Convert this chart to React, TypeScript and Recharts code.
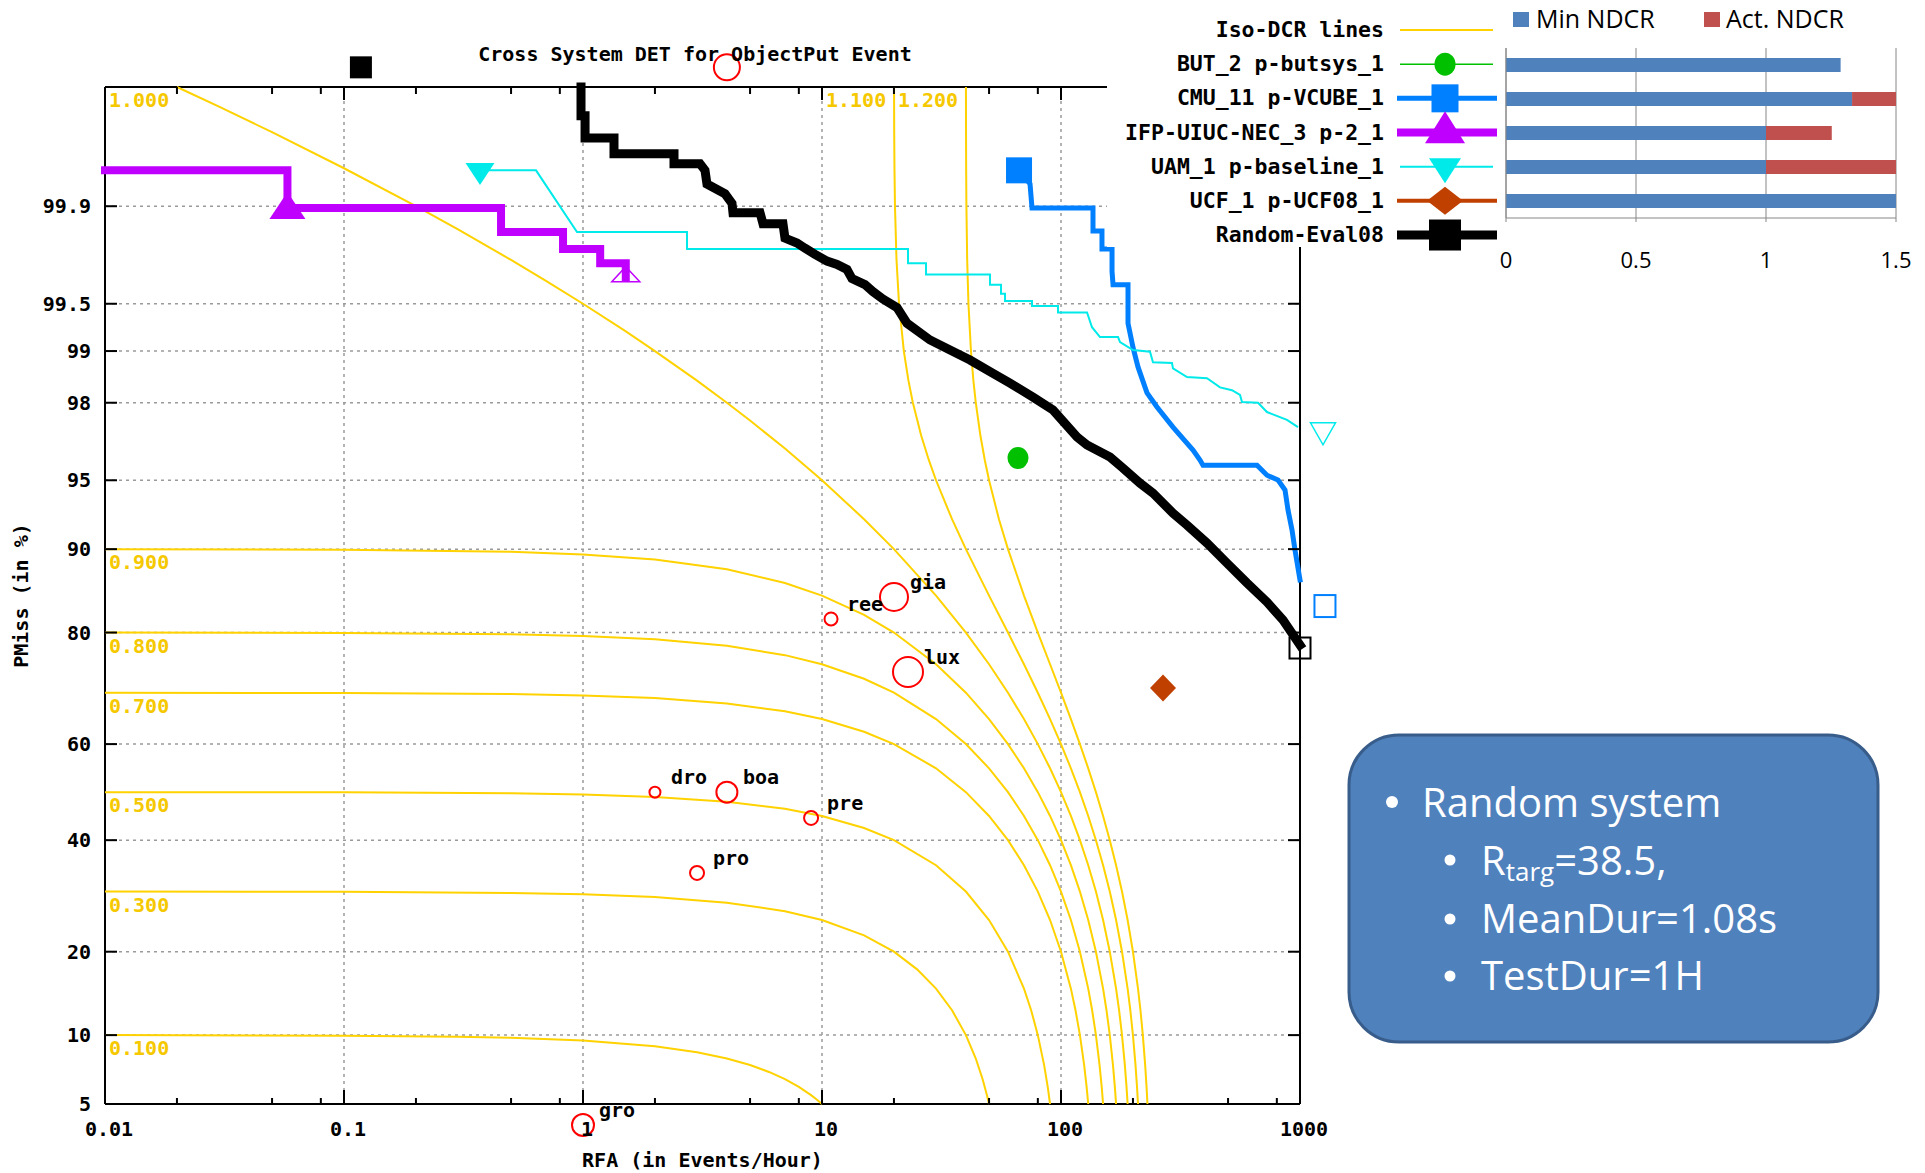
import React from 'react';
import { ScatterChart, Scatter, XAxis, YAxis, CartesianGrid, BarChart, Bar } from 'recharts';

type Pt = [number, number];

// ---------------- texts ----------------
const TITLE = 'Cross System DET for ObjectPut Event';
const X_TITLE = 'RFA (in Events/Hour)';
const Y_TITLE = 'PMiss (in %)';

// ---------------- axes ----------------
const RFA_RANGE: Pt = [0.01, 1000];
const PMISS_RANGE: Pt = [5, 99.99];
const RFA_MAJOR = [0.01, 0.1, 1, 10, 100, 1000];
const RFA_MAJOR_LABELS = ['0.01', '0.1', '1', '10', '100', '1000'];
const RFA_MINOR = [0.02, 0.05, 0.08, 0.2, 0.5, 0.8, 2, 5, 8, 20, 50, 80, 200, 500, 800];
const PMISS_TICKS = [5, 10, 20, 40, 60, 80, 90, 95, 98, 99, 99.5, 99.9];
const PMISS_LABELS = ['5', '10', '20', '40', '60', '80', '90', '95', '98', '99', '99.5', '99.9'];

// ---------------- iso-DCR lines (RFA, Pmiss %) ----------------
const ISO_010: Pt[] = [[0.01, 10], [0.1, 9.95], [0.3, 9.85], [0.5, 9.75], [1, 9.5], [2, 9], [3, 8.5], [4, 8], [5, 7.5], [6, 7], [7, 6.5], [8, 6], [9, 5.5], [9.5, 5.25], [10, 5]];
const ISO_030: Pt[] = [[0.01, 30], [0.1, 29.95], [0.5, 29.75], [1, 29.5], [2, 29], [4, 28], [7, 26.5], [10, 25], [15, 22.5], [20, 20], [25, 17.5], [30, 15], [35, 12.5], [40, 10], [44, 8], [47, 6.5], [49, 5.5], [50, 5]];
const ISO_050: Pt[] = [[0.01, 50], [0.1, 49.95], [0.5, 49.75], [1, 49.5], [2, 49], [4, 48], [7, 46.5], [10, 45], [15, 42.5], [20, 40], [30, 35], [40, 30], [50, 25], [60, 20], [70, 15], [75, 12.5], [80, 10], [85, 7.5], [88, 6], [90, 5]];
const ISO_070: Pt[] = [[0.01, 70], [0.1, 69.95], [0.5, 69.75], [1, 69.5], [2, 69], [4, 68], [7, 66.5], [10, 65], [15, 62.5], [20, 60], [30, 55], [40, 50], [50, 45], [60, 40], [70, 35], [80, 30], [90, 25], [100, 20], [110, 15], [115, 12.5], [120, 10], [125, 7.5], [128, 6], [130, 5]];
const ISO_080: Pt[] = [[0.01, 80], [0.1, 79.95], [0.5, 79.75], [1, 79.5], [2, 79], [4, 78], [7, 76.5], [10, 75], [15, 72.5], [20, 70], [30, 65], [40, 60], [50, 55], [60, 50], [70, 45], [80, 40], [90, 35], [100, 30], [110, 25], [120, 20], [130, 15], [135, 12.5], [140, 10], [145, 7.5], [148, 6], [150, 5]];
const ISO_090: Pt[] = [[0.01, 90], [0.1, 89.95], [0.5, 89.75], [1, 89.5], [2, 89], [4, 88], [7, 86.5], [10, 85], [15, 82.5], [20, 80], [30, 75], [40, 70], [50, 65], [60, 60], [70, 55], [80, 50], [90, 45], [100, 40], [110, 35], [120, 30], [130, 25], [140, 20], [150, 15], [155, 12.5], [160, 10], [165, 7.5], [168, 6], [170, 5]];
const ISO_100: Pt[] = [[0.02, 99.99], [0.03, 99.985], [0.05, 99.975], [0.1, 99.95], [0.2, 99.9], [0.3, 99.85], [0.5, 99.75], [0.7, 99.65], [1, 99.5], [1.5, 99.25], [2, 99], [3, 98.5], [4, 98], [5, 97.5], [7, 96.5], [10, 95], [15, 92.5], [20, 90], [30, 85], [40, 80], [50, 75], [60, 70], [70, 65], [80, 60], [90, 55], [100, 50], [110, 45], [120, 40], [130, 35], [140, 30], [150, 25], [160, 20], [170, 15], [175, 12.5], [180, 10], [185, 7.5], [188, 6], [190, 5]];
const ISO_110: Pt[] = [[20.02, 99.99], [20.05, 99.975], [20.1, 99.95], [20.2, 99.9], [20.5, 99.75], [21, 99.5], [22, 99], [23, 98.5], [24, 98], [26, 97], [28, 96], [30, 95], [35, 92.5], [40, 90], [50, 85], [60, 80], [70, 75], [80, 70], [90, 65], [100, 60], [110, 55], [120, 50], [130, 45], [140, 40], [150, 35], [160, 30], [170, 25], [180, 20], [190, 15], [195, 12.5], [200, 10], [205, 7.5], [208, 6], [210, 5]];
const ISO_120: Pt[] = [[40.02, 99.99], [40.05, 99.975], [40.1, 99.95], [40.2, 99.9], [40.5, 99.75], [41, 99.5], [42, 99], [43, 98.5], [44, 98], [46, 97], [48, 96], [50, 95], [55, 92.5], [60, 90], [70, 85], [80, 80], [90, 75], [100, 70], [110, 65], [120, 60], [130, 55], [140, 50], [150, 45], [160, 40], [170, 35], [180, 30], [190, 25], [200, 20], [210, 15], [215, 12.5], [220, 10], [225, 7.5], [228, 6], [230, 5]];
const ISO_CURVES = [ISO_010, ISO_030, ISO_050, ISO_070, ISO_080, ISO_090, ISO_100, ISO_110, ISO_120];
const ISO_LABELS = ['1.000', '1.100', '1.200', '0.900', '0.800', '0.700', '0.500', '0.300', '0.100'];
const ISO_LABEL_AT: Pt[] = [[0.01, 99.99], [10, 99.99], [20, 99.99], [0.01, 90], [0.01, 80], [0.01, 70], [0.01, 50], [0.01, 30], [0.01, 10]];

// ---------------- reference points ----------------
const REF_NAMES = ['gia', 'ree', 'lux', 'dro', 'boa', 'pre', 'pro', 'gro', ''];
const REF_POINTS: Pt[] = [[20.01, 84.83], [10.91, 81.95], [22.9, 73.68], [2.0, 50.0], [4.0, 50.0], [9.0, 44.59], [3.0, 33.5], [1.0, 3.96], [4.0, 99.9934]];

// ---------------- system DET curves ----------------
const BUT_ACT: Pt = [66.07, 96.1];

const CMU_CURVE: Pt[] = [[66.74, 99.948], [74.2, 99.933], [75.62, 99.897], [136.1, 99.897], [136.1, 99.846], [148.4, 99.846], [148.4, 99.791], [163.5, 99.791], [163.5, 99.699], [165.1, 99.628], [190.7, 99.628], [190.7, 99.33], [200.1, 99.05], [210.1, 98.75], [229, 98.24], [252.1, 97.89], [294.1, 97.29], [356.7, 96.44], [381.6, 96.01], [392.8, 95.77], [660.9, 95.77], [727.7, 95.27], [809, 95.01], [865.5, 94.45], [891, 93.16], [925.9, 91.66], [953.1, 89.92], [1000, 86.84]];
const CMU_ACT: Pt = [66.74, 99.948];
const CMU_MIN: Pt = [1272, 83.68];

const IFP_CURVE: Pt[] = [[0.01, 99.948], [0.058, 99.948], [0.058, 99.897], [0.454, 99.897], [0.454, 99.843], [0.825, 99.843], [0.825, 99.791], [1.18, 99.791], [1.18, 99.736], [1.51, 99.736], [1.51, 99.667]];
const IFP_ACT: Pt = [0.058, 99.893];
const IFP_MIN: Pt = [1.51, 99.672];

const UAM_CURVE: Pt[] = [[0.3707, 99.948], [0.636, 99.948], [0.9438, 99.843], [2.724, 99.843], [2.724, 99.791], [22.9, 99.791], [22.9, 99.736], [27.24, 99.736], [27.24, 99.683], [50.45, 99.683], [50.45, 99.628], [56.1, 99.628], [56.1, 99.571], [58.31, 99.571], [58.31, 99.521], [75.62, 99.521], [75.62, 99.482], [97.14, 99.482], [97.14, 99.43], [128.5, 99.43], [134.8, 99.29], [145.6, 99.18], [173.2, 99.18], [176.6, 99.12], [200.1, 99.014], [235.7, 98.99], [242.6, 98.83], [291.3, 98.82], [294.1, 98.73], [336.7, 98.57], [408.2, 98.55], [462.8, 98.36], [519.4, 98.3], [561, 98.19], [571.9, 98.02], [667.4, 98.0], [727.7, 97.75], [882.1, 97.52], [980.8, 97.29]];
const UAM_ACT: Pt = [0.3707, 99.948];
const UAM_MIN: Pt = [1248, 97.19];

const UCF_ACT: Pt = [267.2, 70.87];

const RANDOM_CURVE: Pt[] = [[0.981, 99.99], [0.981, 99.982], [1.02, 99.982], [1.02, 99.972], [1.348, 99.972], [1.348, 99.962], [2.403, 99.962], [2.403, 99.954], [3.087, 99.954], [3.239, 99.948], [3.302, 99.933], [3.928, 99.92], [4.202, 99.905], [4.242, 99.888], [5.503, 99.888], [5.664, 99.864], [6.866, 99.864], [7.0, 99.826], [7.861, 99.811], [8.489, 99.794], [9.348, 99.772], [10.49, 99.745], [11.56, 99.731], [12.72, 99.708], [13.35, 99.662], [15.13, 99.628], [16.35, 99.585], [17.99, 99.535], [20.6, 99.47], [22.68, 99.33], [28.31, 99.145], [34.33, 99.014], [41.62, 98.867], [51.94, 98.64], [61.17, 98.45], [76.34, 98.14], [92.58, 97.81], [116.7, 96.95], [128.5, 96.64], [160.3, 96.14], [181.7, 95.63], [214.1, 94.84], [242.6, 94.26], [294.1, 92.94], [336.7, 92.05], [408.2, 90.55], [494.9, 88.65], [600.2, 86.5], [727.7, 84.2], [848.9, 81.81], [1000, 78.11]];
const RANDOM_ACT: Pt = [0.1177, 99.9934];
const RANDOM_MIN: Pt = [1000, 77.64];

// ---------------- NDCR bar chart ----------------
const NDCR_SYSTEMS = ['BUT_2', 'CMU_11', 'IFP-UIUC-NEC_3', 'UAM_1', 'UCF_1'];
const MIN_NDCR = [1.287, 1.331, 1.0, 1.0, 1.56];
const ACT_NDCR = [1.287, 1.58, 1.253, 1.62, 1.56];
const NDCR_TICKS = [0, 0.5, 1, 1.5];
const NDCR_SERIES = ['Min NDCR', 'Act. NDCR'];

// ---------------- note box ----------------
const NOTE_TITLE = 'Random system';
const NOTE_ITEMS = ['MeanDur=1.08s', 'TestDur=1H'];

// ================= styles =================
const MONO = "'DejaVu Sans Mono', 'Liberation Mono', monospace";
const SANS = "'Open Sans', 'Noto Sans', sans-serif";
const GOLD = '#FFD200';
const GOLD_TXT = '#F5C800';
const REF_RADIUS = [14, 6.5, 15, 5.5, 10.5, 7, 7, 11, 13];

type Mk = { kind: 'square' | 'triUp' | 'triDown' | 'diamond' | 'ellipse'; w: number; h: number; filled: boolean; sw?: number };

const SYSTEMS = [
  { name: 'BUT_2 p-butsys_1', color: '#00C000', lw: 1.5, curve: null as Pt[] | null, act: BUT_ACT, min: null as Pt | null,
    actMk: { kind: 'ellipse', w: 21, h: 22, filled: true } as Mk, minMk: null as Mk | null, legMk: { kind: 'ellipse', w: 21, h: 23, filled: true } as Mk },
  { name: 'CMU_11 p-VCUBE_1', color: '#0080FF', lw: 5, curve: CMU_CURVE, act: CMU_ACT, min: CMU_MIN,
    actMk: { kind: 'square', w: 26, h: 26, filled: true } as Mk, minMk: { kind: 'square', w: 21, h: 22, filled: false, sw: 2 } as Mk, legMk: { kind: 'square', w: 27, h: 28, filled: true } as Mk },
  { name: 'IFP-UIUC-NEC_3 p-2_1', color: '#C000FF', lw: 8, curve: IFP_CURVE, act: IFP_ACT, min: IFP_MIN,
    actMk: { kind: 'triUp', w: 36, h: 27, filled: true } as Mk, minMk: { kind: 'triUp', w: 28, h: 15, filled: false, sw: 1.5 } as Mk, legMk: { kind: 'triUp', w: 40, h: 32, filled: true } as Mk },
  { name: 'UAM_1 p-baseline_1', color: '#00EAEA', lw: 2, curve: UAM_CURVE, act: UAM_ACT, min: UAM_MIN,
    actMk: { kind: 'triDown', w: 29, h: 22, filled: true } as Mk, minMk: { kind: 'triDown', w: 25, h: 22, filled: false, sw: 1.5 } as Mk, legMk: { kind: 'triDown', w: 32, h: 25, filled: true } as Mk },
  { name: 'UCF_1 p-UCF08_1', color: '#C04000', lw: 4, curve: null as Pt[] | null, act: UCF_ACT, min: null as Pt | null,
    actMk: { kind: 'diamond', w: 26, h: 27, filled: true } as Mk, minMk: null as Mk | null, legMk: { kind: 'diamond', w: 36, h: 28, filled: true } as Mk },
  { name: 'Random-Eval08', color: '#000000', lw: 9, curve: RANDOM_CURVE, act: RANDOM_ACT, min: RANDOM_MIN,
    actMk: { kind: 'square', w: 22, h: 22, filled: true } as Mk, minMk: { kind: 'square', w: 21, h: 21, filled: false, sw: 2 } as Mk, legMk: { kind: 'square', w: 32, h: 31, filled: true } as Mk },
];

// ================= helpers =================
function probit(p: number): number {
  const a = [-3.969683028665376e1, 2.209460984245205e2, -2.759285104469687e2, 1.38357751867269e2, -3.066479806614716e1, 2.506628277459239];
  const b = [-5.447609879822406e1, 1.615858368580409e2, -1.556989798598866e2, 6.680131188771972e1, -1.328068155288572e1];
  const c = [-7.784894002430293e-3, -3.223964580411365e-1, -2.400758277161838, -2.549732539343734, 4.374664141464968, 2.938163982698783];
  const d = [7.784695709041462e-3, 3.224671290700398e-1, 2.445134137142996, 3.754408661907416];
  const pl = 0.02425;
  if (p < pl) {
    const q = Math.sqrt(-2 * Math.log(p));
    return (((((c[0] * q + c[1]) * q + c[2]) * q + c[3]) * q + c[4]) * q + c[5]) / ((((d[0] * q + d[1]) * q + d[2]) * q + d[3]) * q + 1);
  }
  if (p > 1 - pl) {
    const q = Math.sqrt(-2 * Math.log(1 - p));
    return -(((((c[0] * q + c[1]) * q + c[2]) * q + c[3]) * q + c[4]) * q + c[5]) / ((((d[0] * q + d[1]) * q + d[2]) * q + d[3]) * q + 1);
  }
  const q = p - 0.5;
  const r = q * q;
  return ((((((a[0] * r + a[1]) * r + a[2]) * r + a[3]) * r + a[4]) * r + a[5]) * q) / (((((b[0] * r + b[1]) * r + b[2]) * r + b[3]) * r + b[4]) * r + 1);
}

const toXY = (pts: Pt[]) => pts.map(([rfa, pm]) => ({ x: rfa, y: probit(pm / 100) }));
const Y_DOMAIN: Pt = [probit(PMISS_RANGE[0] / 100), probit(PMISS_RANGE[1] / 100)];
const PMISS_Z = PMISS_TICKS.map((v) => probit(v / 100));
const RFA_ALL = [...RFA_MAJOR, ...RFA_MINOR].sort((p, q) => p - q);

const monoText = { fontFamily: MONO, fontWeight: 'bold' as const, fontSize: 20, fill: '#000' };

function markerEl(m: Mk, cx: number, cy: number, color: string) {
  const paint = m.filled ? { fill: color, stroke: 'none' } : { fill: 'none', stroke: color, strokeWidth: m.sw ?? 2 };
  const { w, h } = m;
  switch (m.kind) {
    case 'square':
      return <rect x={cx - w / 2} y={cy - h / 2} width={w} height={h} {...paint} />;
    case 'triUp':
      return <polygon points={`${cx},${cy - (2 * h) / 3} ${cx + w / 2},${cy + h / 3} ${cx - w / 2},${cy + h / 3}`} {...paint} />;
    case 'triDown':
      return <polygon points={`${cx - w / 2},${cy - h / 3} ${cx + w / 2},${cy - h / 3} ${cx},${cy + (2 * h) / 3}`} {...paint} />;
    case 'diamond':
      return <polygon points={`${cx},${cy - h / 2} ${cx + w / 2},${cy} ${cx},${cy + h / 2} ${cx - w / 2},${cy}`} {...paint} />;
    default:
      return <ellipse cx={cx} cy={cy} rx={w / 2} ry={h / 2} {...paint} />;
  }
}

const NoShape = () => <g />;

const BottomTick = (p: any) => {
  const v = p.payload?.value;
  const mi = RFA_MAJOR.indexOf(v);
  const major = mi >= 0;
  return (
    <g>
      <line x1={p.x} x2={p.x} y1={p.y} y2={p.y - (major ? 14 : 6)} stroke="#000" strokeWidth={2} />
      {major && (
        <text x={p.x + 4} y={p.y + 25} textAnchor="middle" dominantBaseline="central" {...monoText}>
          {RFA_MAJOR_LABELS[mi]}
        </text>
      )}
    </g>
  );
};
const TopTick = (p: any) => {
  const major = RFA_MAJOR.indexOf(p.payload?.value) >= 0;
  return <line x1={p.x} x2={p.x} y1={p.y} y2={p.y + (major ? 13 : 7)} stroke="#000" strokeWidth={2} />;
};
const LeftTick = (p: any) => {
  const i = PMISS_Z.indexOf(p.payload?.value);
  return (
    <g>
      <line x1={p.x} x2={p.x + 12} y1={p.y} y2={p.y} stroke="#000" strokeWidth={2} />
      <text x={p.x - 14} y={p.y} textAnchor="end" dominantBaseline="central" {...monoText}>
        {i >= 0 ? PMISS_LABELS[i] : ''}
      </text>
    </g>
  );
};
const RightTick = (p: any) => <line x1={p.x} x2={p.x - 12} y1={p.y} y2={p.y} stroke="#000" strokeWidth={2} />;

const IsoLabel = (p: any) => (
  <text x={p.cx + 4} y={p.cy + 13} dominantBaseline="central" fontFamily={MONO} fontWeight="bold" fontSize={20} fill={GOLD_TXT}>
    {p.payload?.label}
  </text>
);

const RefCircle = (p: any) => {
  const idx = p.payload?.idx ?? 0;
  const name = REF_NAMES[idx];
  return (
    <g>
      <circle cx={p.cx} cy={p.cy} r={REF_RADIUS[idx]} fill="none" stroke="#FF0000" strokeWidth={2} />
      {name ? (
        <text x={p.cx + 16} y={p.cy - 15} dominantBaseline="central" {...monoText}>
          {name}
        </text>
      ) : null}
    </g>
  );
};

export default function App() {
  const isoLabelData = ISO_LABEL_AT.map(([r, pm], i) => ({ x: r, y: probit(pm / 100), label: ISO_LABELS[i] }));
  const refData = REF_POINTS.map(([r, pm], i) => ({ x: r, y: probit(pm / 100), idx: i }));
  const barData = NDCR_SYSTEMS.map((s, i) => ({ name: s, min: MIN_NDCR[i], extra: Math.max(0, ACT_NDCR[i] - MIN_NDCR[i]) }));
  const legendRows = [{ name: 'Iso-DCR lines', color: GOLD, lw: 2, mk: null as Mk | null }, ...SYSTEMS.map((s) => ({ name: s.name, color: s.color, lw: s.lw, mk: s.legMk }))];

  return (
    <div style={{ position: 'absolute', left: 0, top: 0, width: 1925, height: 1173, background: '#fff', overflow: 'hidden' }}>
      <style>{'.det [clip-path]{clip-path:none !important;}'}</style>
      <div className="det" style={{ position: 'absolute', left: 0, top: 0 }}>
        <ScatterChart width={1925} height={1173} margin={{ top: 77, right: 615, bottom: 29, left: 45 }}>
          <CartesianGrid
            xAxisId="x"
            yAxisId="y"
            stroke="#9a9a9a"
            strokeWidth={1.5}
            strokeDasharray="3 4"
            verticalValues={RFA_MAJOR.slice(1, -1)}
            horizontalValues={PMISS_Z.slice(1)}
          />
          <XAxis
            xAxisId="x"
            dataKey="x"
            type="number"
            scale="log"
            domain={RFA_RANGE}
            allowDataOverflow
            ticks={RFA_ALL}
            interval={0}
            tick={BottomTick}
            tickLine={false}
            tickSize={0}
            tickMargin={0}
            height={40}
            axisLine={{ stroke: '#000', strokeWidth: 2 }}
            label={{ value: X_TITLE, position: 'bottom', offset: 9, fill: '#000', style: { fontFamily: MONO, fontWeight: 'bold', fontSize: 20, fill: '#000' } }}
          />
          <XAxis
            xAxisId="xt"
            orientation="top"
            dataKey="x"
            type="number"
            scale="log"
            domain={RFA_RANGE}
            allowDataOverflow
            ticks={RFA_ALL}
            interval={0}
            tick={TopTick}
            tickLine={false}
            tickSize={0}
            tickMargin={0}
            height={10}
            axisLine={{ stroke: '#000', strokeWidth: 2 }}
          />
          <YAxis
            yAxisId="y"
            dataKey="y"
            type="number"
            domain={Y_DOMAIN}
            allowDataOverflow
            ticks={PMISS_Z}
            interval={0}
            tick={LeftTick}
            tickLine={false}
            tickSize={0}
            tickMargin={0}
            width={60}
            axisLine={{ stroke: '#000', strokeWidth: 2 }}
            label={{ value: Y_TITLE, angle: -90, position: 'left', offset: 24, fill: '#000', style: { textAnchor: 'middle', fontFamily: MONO, fontWeight: 'bold', fontSize: 20, fill: '#000' } }}
          />
          <YAxis
            yAxisId="yr"
            orientation="right"
            dataKey="y"
            type="number"
            domain={Y_DOMAIN}
            allowDataOverflow
            ticks={PMISS_Z}
            interval={0}
            tick={RightTick}
            tickLine={false}
            tickSize={0}
            tickMargin={0}
            width={10}
            axisLine={{ stroke: '#000', strokeWidth: 2 }}
          />

          {ISO_CURVES.map((c, i) => (
            <Scatter key={'iso' + i} xAxisId="x" yAxisId="y" data={toXY(c)} line={{ stroke: GOLD, strokeWidth: 2 }} shape={NoShape} isAnimationActive={false} />
          ))}
          <Scatter xAxisId="x" yAxisId="y" data={isoLabelData} shape={IsoLabel} isAnimationActive={false} />
          <Scatter xAxisId="x" yAxisId="y" data={refData} shape={RefCircle} isAnimationActive={false} />

          {SYSTEMS.filter((s) => s.curve).map((s) => (
            <Scatter
              key={'c' + s.name}
              xAxisId="x"
              yAxisId="y"
              data={toXY(s.curve as Pt[])}
              line={{ stroke: s.color, strokeWidth: s.lw, strokeLinecap: s.lw > 3 ? 'square' : 'butt', strokeLinejoin: 'miter', fill: 'none' }}
              shape={NoShape}
              isAnimationActive={false}
            />
          ))}
          {SYSTEMS.map((s) => (
            <Scatter
              key={'a' + s.name}
              xAxisId="x"
              yAxisId="y"
              data={toXY([s.act])}
              shape={(p: any) => markerEl(s.actMk, p.cx, p.cy, s.color)}
              isAnimationActive={false}
            />
          ))}
          {SYSTEMS.filter((s) => s.min).map((s) => (
            <Scatter
              key={'m' + s.name}
              xAxisId="x"
              yAxisId="y"
              data={toXY([s.min as Pt])}
              shape={(p: any) => markerEl(s.minMk as Mk, p.cx, p.cy, s.color)}
              isAnimationActive={false}
            />
          ))}
        </ScatterChart>
      </div>

      <svg width={1925} height={1173} style={{ position: 'absolute', left: 0, top: 0, pointerEvents: 'none' }}>
        <text x={695} y={61} textAnchor="middle" {...monoText}>
          {TITLE}
        </text>
        <rect x={1107} y={0} width={818} height={247} fill="#fff" />
        {legendRows.map((r, i) => {
          const cy = 30 + i * 34.17;
          const thick = r.lw > 3;
          return (
            <g key={'lg' + i}>
              <text x={1384} y={cy + 7} textAnchor="end" fontFamily={MONO} fontWeight="bold" fontSize={21.5} fill="#000">
                {r.name}
              </text>
              <line x1={thick ? 1397 : 1400} x2={thick ? 1497 : 1493} y1={cy} y2={cy} stroke={r.color} strokeWidth={r.lw} />
              {r.mk ? markerEl(r.mk, 1445, cy, r.color) : null}
            </g>
          );
        })}
        {NDCR_SERIES.map((n, i) => (
          <g key={'bl' + i}>
            <rect x={i === 0 ? 1513 : 1704} y={12} width={16} height={15} fill={i === 0 ? '#4F81BD' : '#C0504D'} />
            <text x={i === 0 ? 1536 : 1726} y={28} fontFamily={SANS} fontSize={25} fill="#000">
              {n}
            </text>
          </g>
        ))}
        <rect x={1349} y={735} width={529} height={307} rx={50} ry={50} fill="#4F81BD" stroke="#385D8A" strokeWidth={3} />
        <circle cx={1392} cy={802} r={6} fill="#fff" />
        <text x={1422} y={817} fontFamily={SANS} fontSize={40} fill="#fff">
          {NOTE_TITLE}
        </text>
        <circle cx={1450} cy={860} r={5.5} fill="#fff" />
        <text x={1481} y={875} fontFamily={SANS} fontSize={40} fill="#fff">
          R
          <tspan fontSize={26} dy={6}>
            targ
          </tspan>
          <tspan dy={-6}>=38.5,</tspan>
        </text>
        {NOTE_ITEMS.map((t, i) => (
          <g key={'ni' + i}>
            <circle cx={1450} cy={919 + i * 57} r={5.5} fill="#fff" />
            <text x={1481} y={933 + i * 57} fontFamily={SANS} fontSize={40} fill="#fff">
              {t}
            </text>
          </g>
        ))}
      </svg>

      <div style={{ position: 'absolute', left: 1440, top: 0, width: 485, height: 290, overflow: 'hidden' }}>
        <BarChart layout="vertical" width={485} height={290} data={barData} margin={{ top: 48, right: 29, bottom: 32, left: 58 }}>
          <CartesianGrid horizontal={false} stroke="#868686" />
          <XAxis
            type="number"
            domain={[0, 1.5]}
            allowDataOverflow
            ticks={NDCR_TICKS}
            interval={0}
            tick={{ fill: '#000', fontFamily: SANS, fontSize: 22 }}
            tickLine={{ stroke: '#868686' }}
            tickSize={4}
            tickMargin={30}
            axisLine={{ stroke: '#868686' }}
            height={40}
          />
          <YAxis type="category" dataKey="name" tick={false} tickLine={false} axisLine={{ stroke: '#868686' }} width={8} />
          <Bar dataKey="min" name={NDCR_SERIES[0]} stackId="a" fill="#4F81BD" barSize={14} isAnimationActive={false} />
          <Bar dataKey="extra" name={NDCR_SERIES[1]} stackId="a" fill="#C0504D" barSize={14} isAnimationActive={false} />
        </BarChart>
      </div>
    </div>
  );
}
